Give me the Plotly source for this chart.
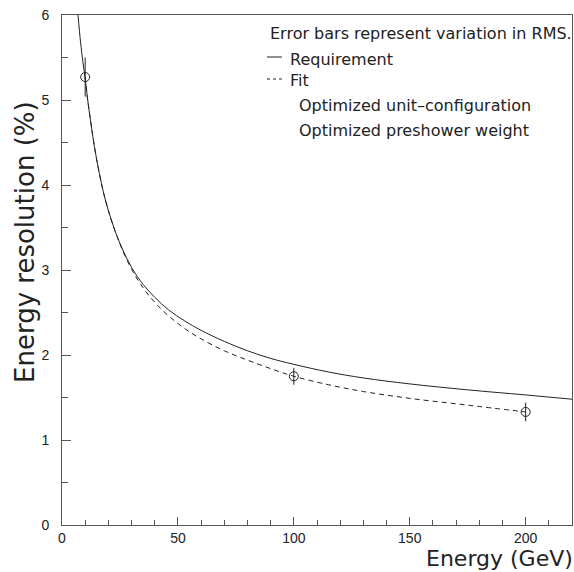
import plotly.graph_objects as go

# Requirement curve
req_E = [6.9, 8, 9, 10, 11, 12.5, 14, 16, 18, 20, 23, 26, 30, 35, 40, 46, 53, 60, 70, 80, 90, 100, 115, 130, 150, 175, 200, 220]
req_y = [6.0, 5.68, 5.45, 5.25, 5.02, 4.72, 4.45, 4.15, 3.90, 3.70, 3.45, 3.25, 3.03, 2.83, 2.68, 2.53, 2.40, 2.29, 2.16, 2.05, 1.96, 1.89, 1.80, 1.73, 1.66, 1.59, 1.53, 1.48]

# Fit curve
fit_E = [10, 11, 12.5, 14, 16, 18, 20, 23, 26, 30, 35, 40, 46, 53, 60, 70, 80, 90, 100, 115, 130, 150, 175, 200]
fit_y = [5.27, 5.02, 4.72, 4.45, 4.15, 3.90, 3.70, 3.45, 3.24, 3.01, 2.79, 2.62, 2.46, 2.31, 2.19, 2.05, 1.94, 1.84, 1.75, 1.65, 1.57, 1.49, 1.41, 1.33]

# Measured points
pt_E = [10, 100, 200]
pt_y = [5.27, 1.75, 1.33]
pt_err = [0.23, 0.10, 0.11]

legend_header = "Error bars represent variation in RMS."
legend_items = ["Requirement", "Fit", "Optimized unit\u2013configuration", "Optimized preshower weight"]
x_title = "Energy (GeV)"
y_title = "Energy resolution (%)"

x_ticks = [0, 50, 100, 150, 200]
y_ticks = [0, 1, 2, 3, 4, 5, 6]

ink = "#222222"
axc = "#555555"
tfont = "DejaVu Sans"
nfont = "Liberation Sans"

fig = go.Figure()
fig.add_trace(go.Scatter(x=req_E, y=req_y, mode="lines", line=dict(color=ink, width=1, shape="spline"),
                         showlegend=False, hoverinfo="skip"))
fig.add_trace(go.Scatter(x=fit_E, y=fit_y, mode="lines",
                         line=dict(color=ink, width=1, dash="5px,4px", shape="spline"),
                         showlegend=False, hoverinfo="skip"))
fig.add_trace(go.Scatter(x=pt_E, y=pt_y, mode="markers",
                         marker=dict(symbol="circle-open", size=9, color=ink, line=dict(width=1, color=ink)),
                         error_y=dict(type="data", array=pt_err, color=ink, thickness=1, width=0),
                         showlegend=False))

W, H = 574, 572
L, R, T, B = 62, 2, 15, 47
pw, ph = W - L - R, H - T - B

def px2paper(px, py):
    return (px - L) / pw, (H - B - py) / ph

anns = []
hx, hy = px2paper(268, 34)
anns.append(dict(x=hx, y=hy, xref="paper", yref="paper", text=legend_header, showarrow=False,
                 xanchor="left", yanchor="middle", font=dict(family=tfont, size=16, color=ink)))
item_pos = [(288, 59), (288, 81), (297, 105), (297, 130)]
for txt, (ix, iy) in zip(legend_items, item_pos):
    ax, ay = px2paper(ix, iy)
    anns.append(dict(x=ax, y=ay, xref="paper", yref="paper", text=txt, showarrow=False,
                     xanchor="left", yanchor="middle", font=dict(family=tfont, size=16, color=ink)))

# axis titles (ROOT style: placed at axis ends)
ax_, ay_ = px2paper(574, 572)
anns.append(dict(x=ax_, y=ay_, xref="paper", yref="paper", text=x_title, showarrow=False,
                 xanchor="right", yanchor="bottom", borderpad=0,
                 font=dict(family=tfont, size=22, color=ink)))
ax_, ay_ = px2paper(25, 242)
anns.append(dict(x=ax_, y=ay_, xref="paper", yref="paper", text=y_title, showarrow=False, textangle=-90,
                 xanchor="center", yanchor="middle", font=dict(family=tfont, size=26, color=ink)))

shapes = []
x0, y0 = px2paper(267, 57)
x1, _ = px2paper(282, 57)
shapes.append(dict(type="line", xref="paper", yref="paper", x0=x0, x1=x1, y0=y0, y1=y0,
                   line=dict(color=ink, width=1)))
x0, y0 = px2paper(267, 79)
x1, _ = px2paper(282, 79)
shapes.append(dict(type="line", xref="paper", yref="paper", x0=x0, x1=x1, y0=y0, y1=y0,
                   line=dict(color=ink, width=1, dash="3px,3px")))

fig.update_layout(
    width=W, height=H,
    margin=dict(l=L, r=R, t=T, b=B),
    paper_bgcolor="white", plot_bgcolor="white",
    annotations=anns, shapes=shapes,
    xaxis=dict(range=[0, 220], tickvals=x_ticks, ticks="inside", ticklen=8, tickcolor=axc,
               showline=True, linecolor=axc, linewidth=1, mirror=True, showgrid=False, zeroline=False,
               tickfont=dict(family=nfont, size=14, color=ink),
               minor=dict(dtick=10, ticks="inside", ticklen=5, tickcolor=axc, showgrid=False)),
    yaxis=dict(range=[0, 6], tickvals=y_ticks, ticks="inside", ticklen=9, tickcolor=axc,
               showline=True, linecolor=axc, linewidth=1, mirror=True, showgrid=False, zeroline=False,
               ticklabelstandoff=9,
               tickfont=dict(family=nfont, size=14, color=ink),
               minor=dict(dtick=0.5, ticks="inside", ticklen=6, tickcolor=axc, showgrid=False)),
)

fig.write_html("out.html")
